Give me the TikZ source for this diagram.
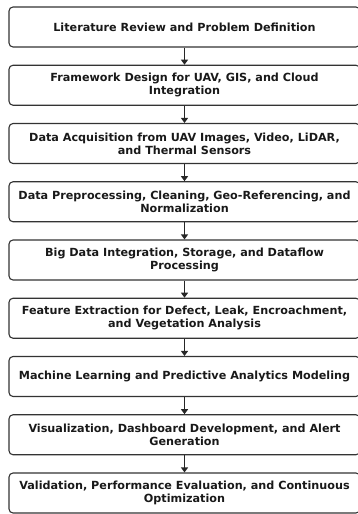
\documentclass[tikz,border=0pt]{standalone}
\usepackage{fontspec}
\setmainfont{DejaVu Sans}
\usetikzlibrary{arrows.meta}
\begin{document}
\begin{tikzpicture}[x=1pt,y=1pt,
  stepbox/.style={draw=black!80, line width=1.1pt, rounded corners=4pt,
    minimum width=351pt, minimum height=40pt, inner sep=0pt,
    align=center, font=\fontsize{11.2}{13.2}\selectfont\bfseries, text=black!90},
  flow/.style={draw=black!85, line width=1.1pt, -{Triangle[length=5pt,width=7pt]}}]
\useasboundingbox (0,0) rectangle (357,-514);
\node[stepbox] (s1) at (184.5,-27) {Literature Review and Problem Definition};
\node[stepbox] (s2) at (184.5,-85.25) {Framework Design for UAV, GIS, and Cloud\\Integration};
\node[stepbox] (s3) at (184.5,-143.5) {Data Acquisition from UAV Images, Video, LiDAR,\\and Thermal Sensors};
\node[stepbox] (s4) at (184.5,-201.75) {Data Preprocessing, Cleaning, Geo-Referencing, and\\Normalization};
\node[stepbox] (s5) at (184.5,-260) {Big Data Integration, Storage, and Dataflow\\Processing};
\node[stepbox] (s6) at (184.5,-318.25) {Feature Extraction for Defect, Leak, Encroachment,\\and Vegetation Analysis};
\node[stepbox] (s7) at (184.5,-376.5) {Machine Learning and Predictive Analytics Modeling};
\node[stepbox] (s8) at (184.5,-434.75) {Visualization, Dashboard Development, and Alert\\Generation};
\node[stepbox] (s9) at (184.5,-493) {Validation, Performance Evaluation, and Continuous\\Optimization};
\foreach \a/\b in {s1/s2,s2/s3,s3/s4,s4/s5,s5/s6,s6/s7,s7/s8,s8/s9}
  \draw[flow] (\a.south) -- (\b.north);
\end{tikzpicture}
\end{document}
